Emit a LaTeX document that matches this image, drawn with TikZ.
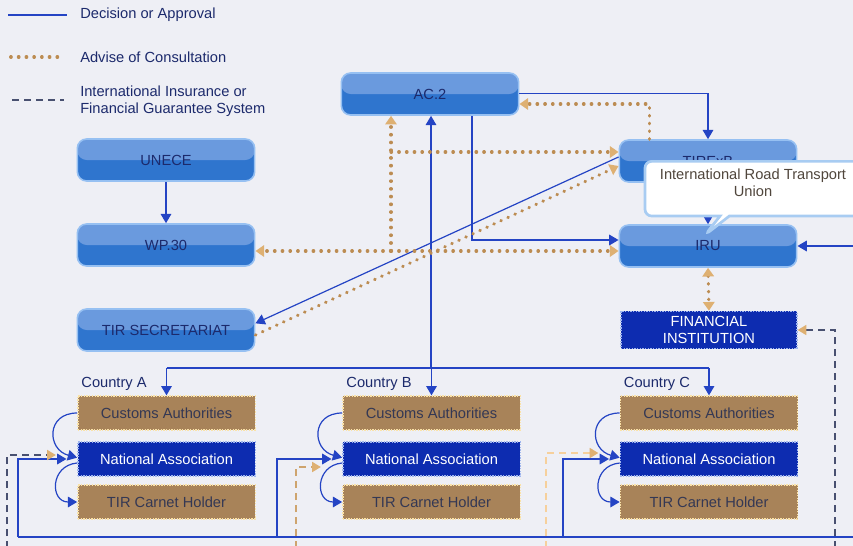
\documentclass[tikz,border=0pt]{standalone}
\usepackage{fontspec}
\setmainfont{Liberation Sans}
\usetikzlibrary{arrows.meta,shapes.callouts}

\definecolor{cBg}{RGB}{238,239,245}
\definecolor{cBoxLight}{RGB}{106,154,222}
\definecolor{cBoxDark}{RGB}{47,117,206}
\definecolor{cBoxEdge}{RGB}{150,192,242}
\definecolor{cNavy}{RGB}{28,42,108}
\definecolor{cTan}{RGB}{168,131,89}
\definecolor{cTanEdge}{RGB}{250,226,168}
\definecolor{cTanText}{RGB}{52,56,84}
\definecolor{cNA}{RGB}{13,44,176}
\definecolor{cNAEdge}{RGB}{160,182,238}
\definecolor{cDecision}{RGB}{36,68,196}
\definecolor{cAdvise}{RGB}{188,140,82}
\definecolor{cAdviseTip}{RGB}{222,176,114}
\definecolor{cGuarDark}{RGB}{72,80,112}
\definecolor{cGuarTan}{RGB}{206,164,110}
\definecolor{cGuarPeach}{RGB}{246,208,156}
\definecolor{cCallEdge}{RGB}{168,204,242}
\definecolor{cCallText}{RGB}{80,70,60}

\tikzset{
  lblfont/.style={font=\fontsize{11}{12.5}\selectfont, inner sep=0pt},
  orgbox/.style={lblfont, rounded corners=7pt, draw=cBoxEdge, line width=1.2pt,
    fill=cBoxDark, text=cNavy, minimum width=133pt, minimum height=31.5pt,
    path picture={\fill[cBoxLight] (path picture bounding box.north west)
      rectangle (path picture bounding box.east);}},
  custbox/.style={lblfont, fill=cTan, draw=cTanEdge, densely dotted, line width=1pt,
    text=cTanText, minimum width=133pt, minimum height=25.5pt},
  nabox/.style={lblfont, fill=cNA, draw=cNAEdge, densely dotted, line width=1pt,
    text=white, minimum width=133pt, minimum height=25.5pt},
  finbox/.style={nabox, minimum width=132pt, minimum height=28pt, align=center},
  callnote/.style={lblfont, rectangle callout, fill=white, draw=cCallEdge, line width=2pt,
    rounded corners=5pt, callout pointer width=7pt, text=cCallText, align=center,
    minimum width=162pt, minimum height=41pt, text depth=9pt},
  legend/.style={lblfont, text=cNavy, align=left},
  country/.style={lblfont, text=cNavy},
  decision/.style={cDecision, line width=0.9pt, >={Triangle[length=7pt,width=8pt]}},
  advise/.style={cAdvise, line width=2.4pt, line cap=round, dash pattern=on 0.4pt off 5.4pt,
    >={Triangle[length=6.5pt,width=8.5pt,color=cAdviseTip]}},
  guar/.style={line width=1.2pt, dash pattern=on 5pt off 4pt,
    >={Triangle[length=6.5pt,width=7.5pt,color=cAdviseTip]}},
}

\begin{document}
\begin{tikzpicture}[x=0.75pt, y=-0.75pt]

% ── Canvas ──
\useasboundingbox (0,0) rectangle (853,546);
\clip (0,0) rectangle (853,546);
\fill[cBg] (0,0) rectangle (853,546);

% ── Legend ──
\node[legend, anchor=west] (lgDecision) at (80,15) {Decision or Approval};
\node[legend, anchor=west] (lgAdvise) at (80,57) {Advise of Consultation};
\node[legend, anchor=west] (lgGuarantee) at (80,101) {International Insurance or\\Financial Guarantee System};
\draw[decision] ([xshift=-54pt]lgDecision.west) -- ([xshift=-10pt]lgDecision.west);
\draw[advise] ([xshift=-52pt]lgAdvise.west) -- ([xshift=-12pt]lgAdvise.west);
\draw[guar, cGuarDark] ([xshift=-51pt,yshift=0.75pt]lgGuarantee.west) -- ([xshift=-12pt,yshift=0.75pt]lgGuarantee.west);

% ── Bodies ──
\node[orgbox] (AC2) at (430,94) {AC.2};
\node[orgbox] (UNECE) at (166,160) {UNECE};
\node[orgbox] (WP30) at (166,245) {WP.30};
\node[orgbox] (TIRsec) at (166,330) {TIR SECRETARIAT};
\node[orgbox] (TIRExB) at (708,161) {TIRExB};
\node[orgbox] (IRU) at (708,246) {IRU};
\node[finbox] (FinInst) at (709,330) {FINANCIAL\\INSTITUTION};

% ── Countries ──
\foreach \cty/\cx in {A/166.5, B/431.5, C/709} {
  \node[custbox] (cus\cty) at (\cx,413) {Customs Authorities};
  \node[nabox] (na\cty) at (\cx,459) {National Association};
  \node[custbox] (tch\cty) at (\cx,502) {TIR Carnet Holder};
  \node[country, anchor=south west] (lbl\cty) at ([xshift=3pt,yshift=3.5pt]cus\cty.north west) {Country \cty};
  \draw[decision,->] (cus\cty.west) to[out=180,in=165,looseness=1.8] ([yshift=1pt]na\cty.west);
  \draw[decision,->] ([yshift=-3pt]na\cty.west) to[out=185,in=180,looseness=1.8] (tch\cty.west);
}

% ── Decision or approval ──
\draw[decision,->] (UNECE) -- (WP30);
\draw[decision,->] ([yshift=0.5pt]AC2.east) -| (TIRExB.north);
\draw[decision,->] ([xshift=31.5pt]AC2.south) |- ([yshift=4.5pt]IRU.west);
\draw[decision,->] ([yshift=3pt]TIRExB.west) -- ([yshift=5pt]TIRsec.east);
\draw[decision,->] (TIRExB) -- (IRU);

\coordinate (busTop) at (431,368);
\draw[decision] (cusA.north |- busTop) -- (cusC.north |- busTop);
\draw[decision,->] (busTop) -- (busTop |- AC2.south);
\foreach \cty in {A,B,C}
  \draw[decision,->] (cus\cty.north |- busTop) -- (cus\cty.north);

\coordinate (retA) at (18,537);
\coordinate (retB) at (277,537);
\coordinate (retC) at (563,537);
\coordinate (retEnd) at (870,537);
\coordinate (retUp) at (IRU.east -| retEnd);
\draw[decision] (retA) -- (retEnd) -- (retUp);
\draw[decision,->] (retUp) -- (IRU.east);
\draw[decision,->,shorten >=8pt] (retA) |- (naA.west);
\draw[decision,->,shorten >=8pt] (retB) |- (naB.west);
\draw[decision,->,shorten >=8pt] (retC) |- (naC.west);

% ── Advise of consultation ──
\coordinate (advHub) at (391,251);
\coordinate (advMid) at (391,152);
\draw[advise,->] (advHub) -- (WP30.east |- advHub);
\draw[advise,->] (advHub) -- (IRU.west |- advHub);
\draw[advise,->] (advHub) -- (advHub |- AC2.south);
\draw[advise,->] (advMid) -- (TIRExB.west |- advMid);
\draw[advise,->] ([xshift=-44pt]TIRExB.north) |- ([yshift=-7.5pt]AC2.east);
\draw[advise,->] ([yshift=-3.75pt]TIRsec.east) -- ([yshift=-3.75pt]TIRExB.west);
\draw[advise,<->] (IRU.south) -- (FinInst.north);

% ── Guarantee system ──
\coordinate (gtyA) at (7,560);
\coordinate (gtyB) at (296,560);
\coordinate (gtyC) at (546,560);
\coordinate (gtyFin) at (835,560);
\draw[guar,cGuarDark,->,shorten >=16pt] (gtyA) |- ([yshift=3pt]naA.west);
\draw[guar,cGuarTan,->,shorten >=16pt] (gtyB) |- ([yshift=-6pt]naB.west);
\draw[guar,cGuarPeach,->,shorten >=16pt] (gtyC) |- ([yshift=4.5pt]naC.west);
\draw[guar,cGuarDark,->] (gtyFin) |- (FinInst.east);

% ── Note ──
\node[callnote, anchor=north, callout absolute pointer={(705,235)}] (iruNote) at (753,160) {International Road Transport\\Union};

\end{tikzpicture}
\end{document}
